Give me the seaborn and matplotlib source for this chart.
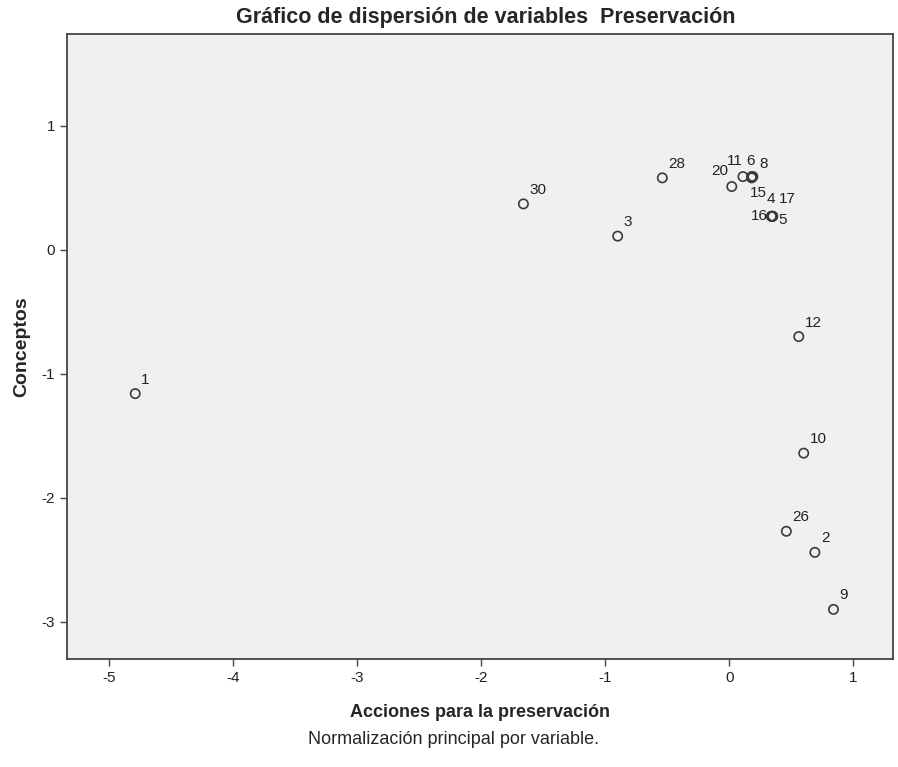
import matplotlib
matplotlib.use("Agg")
import matplotlib.pyplot as plt
import seaborn as sns
import pandas as pd

# scatter of variables (component loadings)
labels = ['1', '30', '3', '28', '20', '11', '6', '8', '15', '16', '5', '4', '17', '12', '10', '26', '2', '9']
acciones = [-4.79, -1.66, -0.90, -0.54, 0.02, 0.11, 0.18, 0.19, 0.18, 0.34, 0.35, 0.34, 0.35, 0.56, 0.60, 0.46, 0.69, 0.84]
conceptos = [-1.16, 0.37, 0.11, 0.58, 0.51, 0.59, 0.59, 0.59, 0.58, 0.27, 0.27, 0.27, 0.27, -0.70, -1.64, -2.27, -2.44, -2.90]

# label offsets in pixels (ha, dx, dy) - style only
OFFS = {'20': ('right', -4, 9), '11': ('left', -16, 9), '6': ('left', -5, 9),
        '8': ('left', 7, 6), '15': ('left', -2, -22), '4': ('left', -5, 10),
        '17': ('left', 6, 10), '16': ('right', -4, -7), '5': ('left', 6, -11)}

df = pd.DataFrame({'lab': labels, 'x': acciones, 'y': conceptos})

sns.set_theme(style="white")
plt.rcParams['font.family'] = ['Liberation Sans', 'DejaVu Sans']
plt.rcParams['axes.unicode_minus'] = False

fig = plt.figure(figsize=(8.98, 7.67), dpi=100)
ax = fig.add_axes([67/898, 1 - 659/767, 826/898, 625/767])
ax.set_facecolor('#f0f0f0')

sns.scatterplot(data=df, x='x', y='y', ax=ax, marker='o', s=45,
                facecolor='none', edgecolor='#3a3a3a', linewidth=1.2)

for lab, x, y in zip(labels, acciones, conceptos):
    ha, dx, dy = OFFS.get(lab, ('left', 6, 7))
    ax.annotate(lab, (x, y), xytext=(dx, dy), textcoords='offset pixels',
                ha=ha, va='bottom', fontsize=11, color='#222222')

ax.set_xlim(-5.34, 1.32)
ax.set_ylim(-3.30, 1.74)
ax.set_xticks([-5, -4, -3, -2, -1, 0, 1])
ax.set_yticks([-3, -2, -1, 0, 1])
ax.tick_params(axis='both', which='major', direction='out', length=5, width=1,
               color='#444444', labelsize=11, labelcolor='#222222',
               bottom=True, left=True)
for sp in ax.spines.values():
    sp.set_color('#444444')
    sp.set_linewidth(1.3)

ax.set_xlabel("Acciones para la preservación", fontsize=13, fontweight='bold', labelpad=14)
ax.set_ylabel("Conceptos", fontsize=14, fontweight='bold', labelpad=8)
fig.text(486/898, 1 - 17/767, "Gráfico de dispersión de variables  Preservación",
         ha='center', va='center', fontsize=15.5, fontweight='bold')
fig.text(453/898, 1 - 740/767, "Normalización principal por variable.",
         ha='center', va='center', fontsize=13)

fig.savefig("out.png", dpi=100)
